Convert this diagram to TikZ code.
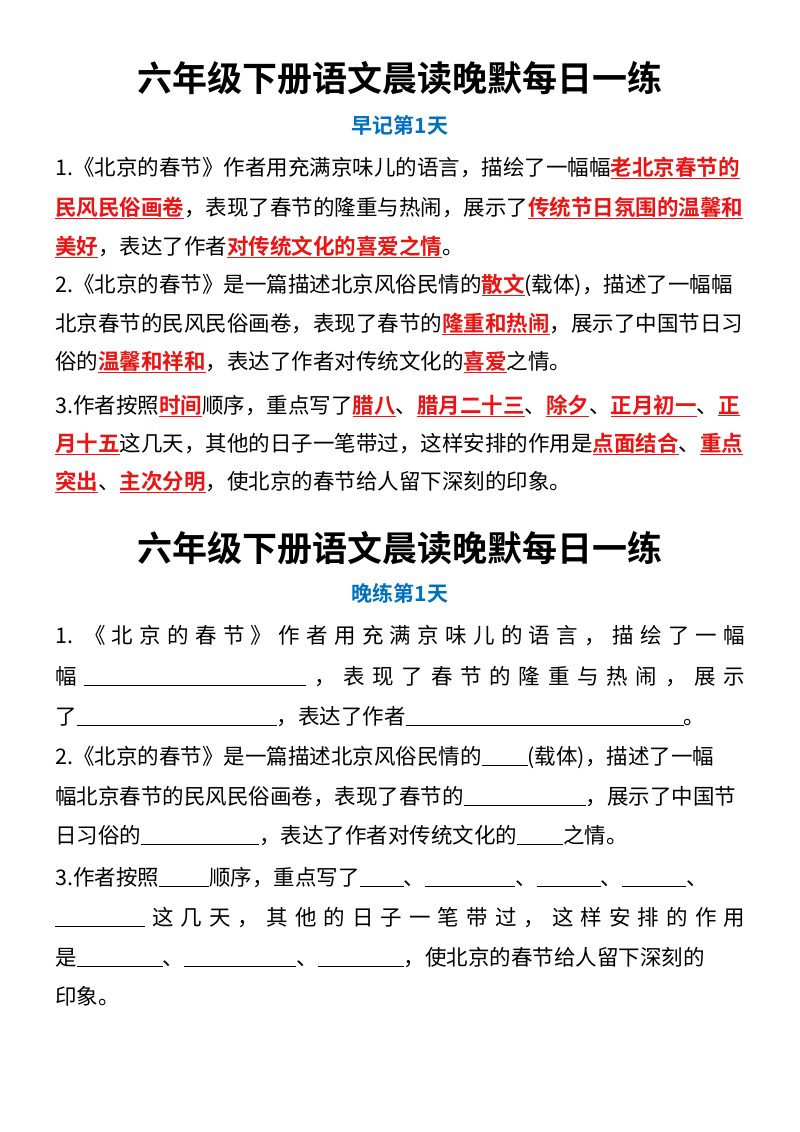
\documentclass[tikz,border=0pt]{standalone}
\usepackage{fontspec}
\setmainfont{Noto Sans CJK SC}[BoldFont={Noto Sans CJK SC Bold}]
\definecolor{rd}{RGB}{235,20,20}
\definecolor{bl}{RGB}{0,112,192}
\newcommand{\hl}[1]{{\color{rd}\bfseries\underline{#1}}}
\newcommand{\bk}[1]{\underline{\hspace{#1}}}
\begin{document}
\begin{tikzpicture}[x=1pt,y=-1pt,
  ln/.style={anchor=base west,inner sep=0pt,font=\fontsize{21.5}{21.5}\selectfont},
  tt/.style={anchor=base,inner sep=0pt,font=\fontsize{35}{35}\selectfont\bfseries},
  st/.style={anchor=base,inner sep=0pt,font=\fontsize{21}{21}\selectfont\bfseries,text=bl}]
\useasboundingbox (0,0) rectangle (800,1132);
\fill[white] (0,0) rectangle (800,1132);
\node[tt] (t1) at (400,91) {六年级下册语文晨读晚默每日一练};
\node[st] (s1) at (400,133) {早记第1天};
\node[ln] (a1) at (55,175) {1.《北京的春节》作者用充满京味儿的语言，描绘了一幅幅\hl{老北京春节的}};
\node[ln] (a2) at (55,215) {\hl{民风民俗画卷}，表现了春节的隆重与热闹，展示了\hl{传统节日氛围的温馨和}};
\node[ln] (a3) at (55,254) {\hl{美好}，表达了作者\hl{对传统文化的喜爱之情}。};
\node[ln] (b1) at (55,292) {2.《北京的春节》是一篇描述北京风俗民情的\hl{散文}(载体)，描述了一幅幅};
\node[ln] (b2) at (55,331) {北京春节的民风民俗画卷，表现了春节的\hl{隆重和热闹}，展示了中国节日习};
\node[ln] (b3) at (55,369) {俗的\hl{温馨和祥和}，表达了作者对传统文化的\hl{喜爱}之情。};
\node[ln] (c1) at (55,413) {3.作者按照\hl{时间}顺序，重点写了\hl{腊八}、\hl{腊月二十三}、\hl{除夕}、\hl{正月初一}、\hl{正}};
\node[ln] (c2) at (55,451) {\hl{月十五}这几天，其他的日子一笔带过，这样安排的作用是\hl{点面结合}、\hl{重点}};
\node[ln] (c3) at (55,489) {\hl{突出}、\hl{主次分明}，使北京的春节给人留下深刻的印象。};
\node[tt] (t2) at (400,561) {六年级下册语文晨读晚默每日一练};
\node[st] (s2) at (400,601) {晚练第1天};
\node[ln] (d1) at (55,643) {\makebox[690pt][s]{1. 《 北 京 的 春 节 》 作 者 用 充 满 京 味 儿 的 语 言 ， 描 绘 了 一 幅}};
\node[ln] (d2) at (55,684) {\makebox[690pt][s]{幅 \bk{222pt} ， 表 现 了 春 节 的 隆 重 与 热 闹 ， 展 示}};
\node[ln] (d3) at (55,724) {了\bk{200pt}，表达了作者\bk{278pt}。};
\node[ln] (e1) at (55,764) {2.《北京的春节》是一篇描述北京风俗民情的\bk{46pt}(载体)，描述了一幅};
\node[ln] (e2) at (55,804) {幅北京春节的民风民俗画卷，表现了春节的\bk{122pt}，展示了中国节};
\node[ln] (e3) at (55,843) {日习俗的\bk{118pt}，表达了作者对传统文化的\bk{46pt}之情。};
\node[ln] (f1) at (55,885) {3.作者按照\bk{50pt}顺序，重点写了\bk{44pt}、\bk{90pt}、\bk{64pt}、\bk{64pt}、};
\node[ln] (f2) at (55,925) {\makebox[690pt][s]{\bk{90pt} 这 几 天 ， 其 他 的 日 子 一 笔 带 过 ， 这 样 安 排 的 作 用}};
\node[ln] (f3) at (55,965) {是\bk{86pt}、\bk{112pt}、\bk{86pt}，使北京的春节给人留下深刻的};
\node[ln] (f4) at (55,1004) {印象。};
\end{tikzpicture}
\end{document}
